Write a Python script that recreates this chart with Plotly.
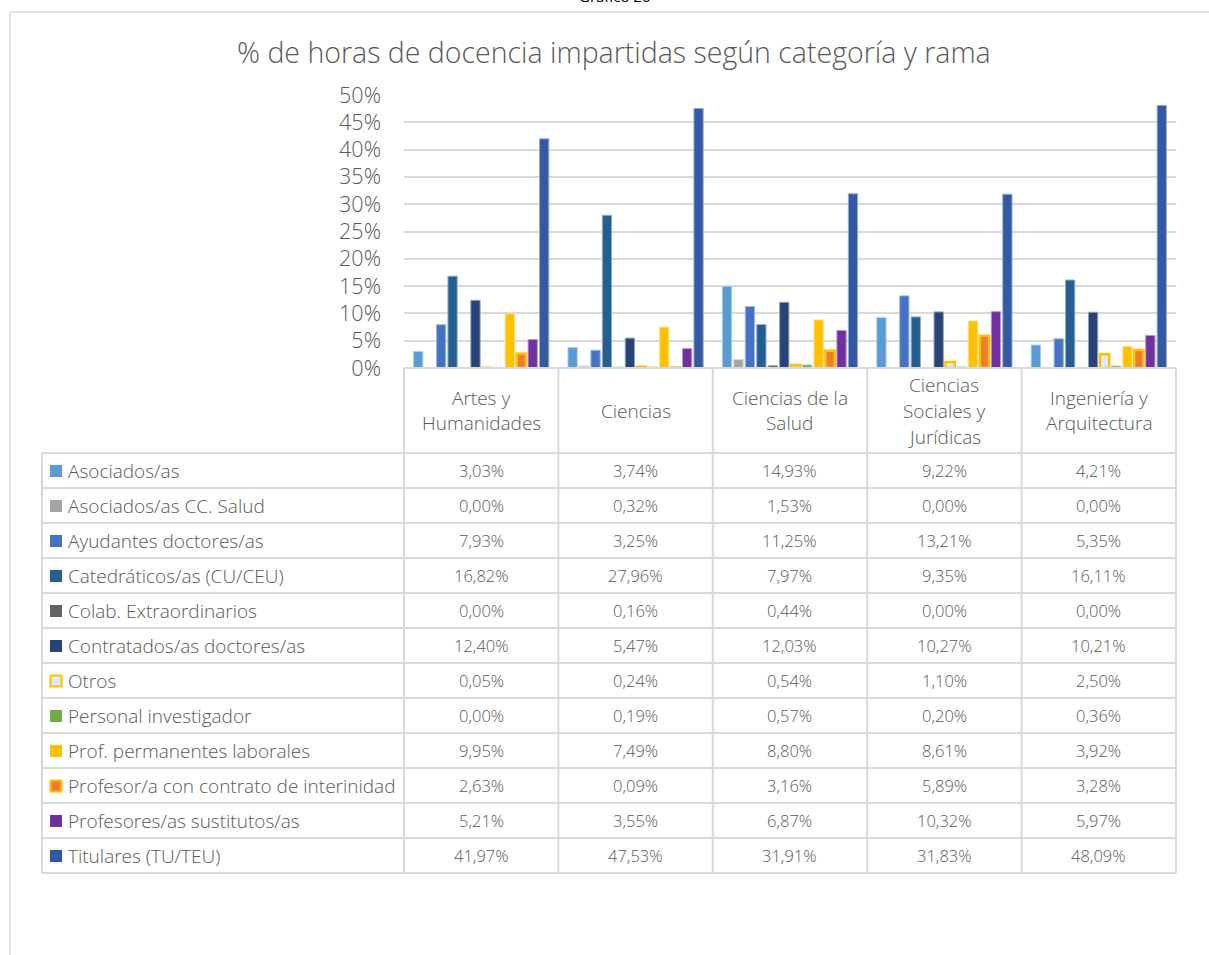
import plotly.graph_objects as go

# ---------------- data ----------------
categories = ["Artes y Humanidades", "Ciencias", "Ciencias de la Salud",
              "Ciencias Sociales y Jurídicas", "Ingeniería y Arquitectura"]
header_lines = [["Artes y", "Humanidades"], ["Ciencias"], ["Ciencias de la", "Salud"],
                ["Ciencias", "Sociales y", "Jurídicas"], ["Ingeniería y", "Arquitectura"]]

series_names = ["Asociados/as", "Asociados/as CC. Salud", "Ayudantes doctores/as",
                "Catedráticos/as (CU/CEU)", "Colab. Extraordinarios",
                "Contratados/as doctores/as", "Otros", "Personal investigador",
                "Prof. permanentes laborales", "Profesor/a con contrato de interinidad",
                "Profesores/as sustitutos/as", "Titulares (TU/TEU)"]

asociados = [3.03, 3.74, 14.93, 9.22, 4.21]
asociados_salud = [0.00, 0.32, 1.53, 0.00, 0.00]
ayudantes = [7.93, 3.25, 11.25, 13.21, 5.35]
catedraticos = [16.82, 27.96, 7.97, 9.35, 16.11]
colab = [0.00, 0.16, 0.44, 0.00, 0.00]
contratados = [12.40, 5.47, 12.03, 10.27, 10.21]
otros = [0.05, 0.24, 0.54, 1.10, 2.50]
investigador = [0.00, 0.19, 0.57, 0.20, 0.36]
permanentes = [9.95, 7.49, 8.80, 8.61, 3.92]
interinidad = [2.63, 0.09, 3.16, 5.89, 3.28]
sustitutos = [5.21, 3.55, 6.87, 10.32, 5.97]
titulares = [41.97, 47.53, 31.91, 31.83, 48.09]

series_values = [asociados, asociados_salud, ayudantes, catedraticos, colab, contratados,
                 otros, investigador, permanentes, interinidad, sustitutos, titulares]

y_ticks = [0, 0.05, 0.10, 0.15, 0.20, 0.25, 0.30, 0.35, 0.40, 0.45, 0.50]
y_tick_labels = ["0%", "5%", "10%", "15%", "20%", "25%", "30%", "35%", "40%", "45%", "50%"]

title_text = "% de horas de docencia impartidas según categoría y rama"
caption_text = "Gráfico 26"

# ---------------- styles ----------------
fills = ["#5B9BD5", "#A5A5A5", "#4472C4", "#255E91", "#636363", "#264478",
         "#DEEBF7", "#70AD47", "#FFC000", "#ED7D31", "#7030A0", "#335AA1"]
lines = ["#A9CBEA", "#D2D2D2", "#A1B8E1", "#92AEC8", "#B1B1B1", "#92A1BB",
         "#FFC000", "#B7D6A3", "#FFE07F", "#FFC000", "#B797CF", "#99ACD0"]
line_w = [1, 1, 1, 1, 1, 1, 2.5, 1, 1, 2.5, 1, 1]

W, H = 1209, 955
FONT = "Open Sans"
TXT = "#595959"
GRID = "#D9D9D9"

X0, X1 = 404, 1176          # plot-area left/right (px)
Y0PX, Y50PX = 368, 95       # y pixel of 0% and 50%
TBL_LEFT = 42
HDR_BOTTOM = 453
ROW_H = 35


def px(x):
    return x / W


def py(y):
    return 1 - y / H


fig = go.Figure()
for name, vals, fc, lc, lw in zip(series_names, series_values, fills, lines, line_w):
    fig.add_trace(go.Bar(
        x=categories, y=[v / 100 for v in vals], name=name,
        marker=dict(color=fc, line=dict(color=lc, width=lw)),
        hovertemplate="%{x}<br>" + name + ": %{y:.2%}<extra></extra>",
    ))

ncat = len(categories)
colw = (X1 - X0) / ncat
col_edges = [X0 + i * colw for i in range(ncat + 1)]
nrows = len(series_names)
TBL_BOTTOM = HDR_BOTTOM + nrows * ROW_H

shapes = []
lc = dict(color=GRID, width=2)
# chart frame (top and left)
shapes.append(dict(type="line", xref="paper", yref="paper", x0=px(10), x1=px(1209),
                   y0=py(12), y1=py(12), line=dict(color=GRID, width=1.5)))
shapes.append(dict(type="line", xref="paper", yref="paper", x0=px(10), x1=px(10),
                   y0=py(12), y1=py(955), line=dict(color=GRID, width=1.5)))
# header vertical lines
for e in col_edges:
    shapes.append(dict(type="line", xref="paper", yref="paper", x0=px(e), x1=px(e),
                       y0=py(Y0PX), y1=py(TBL_BOTTOM), line=lc))
# axis line (header top)
shapes.append(dict(type="line", xref="paper", yref="paper", x0=px(X0), x1=px(X1),
                   y0=py(Y0PX), y1=py(Y0PX), line=lc))
# row lines
for r in range(nrows + 1):
    yy = HDR_BOTTOM + r * ROW_H
    shapes.append(dict(type="line", xref="paper", yref="paper", x0=px(TBL_LEFT), x1=px(X1),
                       y0=py(yy), y1=py(yy), line=lc))
shapes.append(dict(type="line", xref="paper", yref="paper", x0=px(TBL_LEFT), x1=px(TBL_LEFT),
                   y0=py(HDR_BOTTOM), y1=py(TBL_BOTTOM), line=lc))

annotations = []
# title and caption
annotations.append(dict(text=title_text, xref="paper", yref="paper", x=px(614), y=py(52),
                        xanchor="center", yanchor="middle", showarrow=False,
                        font=dict(family=FONT, size=28.5, color=TXT, weight=300)))
annotations.append(dict(text=caption_text, xref="paper", yref="paper", x=px(614), y=py(-4),
                        xanchor="center", yanchor="middle", showarrow=False,
                        font=dict(family=FONT, size=15, color="#000000")))
# header labels
LINE_SP = 26
for i, hl in enumerate(header_lines):
    cx = (col_edges[i] + col_edges[i + 1]) / 2
    cy = (Y0PX + HDR_BOTTOM) / 2
    n = len(hl)
    for k, t in enumerate(hl):
        yy = cy + (k - (n - 1) / 2) * LINE_SP
        annotations.append(dict(text=t, xref="paper", yref="paper", x=px(cx), y=py(yy),
                                xanchor="center", yanchor="middle", showarrow=False,
                                font=dict(family=FONT, size=19, color=TXT, weight=300)))
# rows
for r, (name, vals) in enumerate(zip(series_names, series_values)):
    cy = HDR_BOTTOM + r * ROW_H + ROW_H / 2
    # legend key
    if line_w[r] > 1:
        shapes.append(dict(type="rect", xref="paper", yref="paper",
                           x0=px(50.5), x1=px(61.5), y0=py(cy - 5), y1=py(cy + 6),
                           fillcolor=fills[r], line=dict(color=lines[r], width=2)))
    else:
        shapes.append(dict(type="rect", xref="paper", yref="paper",
                           x0=px(50), x1=px(62), y0=py(cy - 5.5), y1=py(cy + 6.5),
                           fillcolor=fills[r], line=dict(width=0)))
    annotations.append(dict(text=name, xref="paper", yref="paper", x=px(66), y=py(cy),
                            xanchor="left", yanchor="middle", showarrow=False,
                            font=dict(family=FONT, size=19, color=TXT, weight=300)))
    for i, v in enumerate(vals):
        cx = (col_edges[i] + col_edges[i + 1]) / 2
        annotations.append(dict(text=f"{v:.2f}%".replace(".", ","), xref="paper", yref="paper",
                                x=px(cx), y=py(cy), xanchor="center", yanchor="middle",
                                showarrow=False,
                                font=dict(family=FONT, size=16.5, color=TXT, weight=300)))

fig.update_layout(
    template="none",
    width=W, height=H, margin=dict(l=0, r=0, t=0, b=0, pad=0, autoexpand=False),
    paper_bgcolor="white", plot_bgcolor="white",
    barmode="group", bargap=0.11, bargroupgap=0.19,
    showlegend=False,
    xaxis=dict(domain=[px(X0), px(X1)], showticklabels=False, showgrid=False,
               zeroline=False, showline=False, fixedrange=True, automargin=False,
               ticks=""),
    yaxis=dict(domain=[py(Y0PX), py(Y50PX)], range=[0, 0.5], tickvals=y_ticks,
               ticktext=y_tick_labels, showgrid=True, gridcolor=GRID, gridwidth=2,
               zeroline=False, showline=False, ticklabelstandoff=22, ticks="",
               automargin=False,
               tickfont=dict(family=FONT, size=21.5, color=TXT, weight=300), fixedrange=True),
    shapes=shapes, annotations=annotations,
    font=dict(family=FONT, color=TXT),
)

fig.write_html("out.html", config={"displayModeBar": False},
               post_script="document.body.style.margin='0';"
                           "document.body.style.overflow='hidden';")
